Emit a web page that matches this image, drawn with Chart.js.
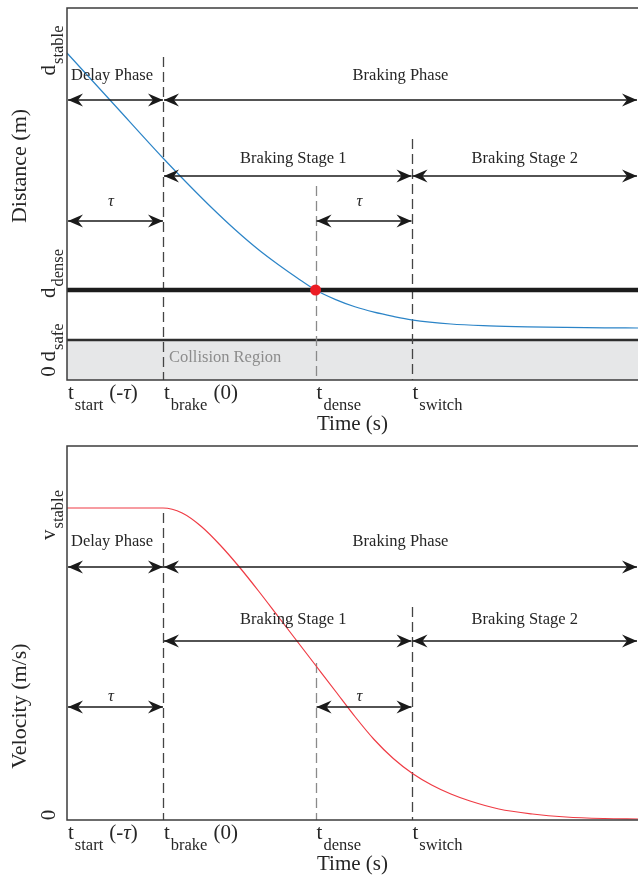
<!DOCTYPE html>
<html>
<head>
<meta charset="utf-8">
<script src="https://cdn.jsdelivr.net/npm/chart.js@4.4.0/dist/chart.umd.min.js"></script>
<style>
html, body { margin: 0; padding: 0; background: #fff; overflow: hidden; }
.box { position: relative; width: 638px; }
.box canvas { display: block; }
#topBox { height: 440px; }
#bottomBox { height: 435px; }
</style>
</head>
<body>
<div class="box" id="topBox"><canvas id="distChart"></canvas></div>
<div class="box" id="bottomBox"><canvas id="velChart"></canvas></div>
<script>
// key instants, in units of tau
const tStart = -1, tBrake = 0, tDense = 1.59, tSwitch = 2.59, tEnd = 4.95;

// distance (arbitrary units)
const distTime = [-1, -0.5, 0, 0.25, 0.5, 0.75, 1.0, 1.2, 1.4, 1.59, 1.8, 2.0, 2.2, 2.4, 2.59, 3.0, 3.4, 3.8, 4.2, 4.6, 4.95];
const distValues = [327, 274.5, 222, 197, 173, 150.5, 130, 115.5, 102, 90, 80.4, 73.2, 67.8, 63.6, 60.2, 56, 54.2, 53.2, 52.6, 52.2, 52];
const dStable = 327, dDense = 90, dSafe = 40, distMax = 372;

// velocity (arbitrary units)
const velTime = [-1, 0, 0.2, 0.4, 0.6, 0.8, 1.0, 1.2, 1.4, 1.6, 1.8, 2.0, 2.2, 2.4, 2.6, 2.8, 3.0, 3.2, 3.5, 3.85, 4.2, 4.6, 4.95];
const velValues = [312, 312, 307, 293.5, 274.5, 252.5, 228.5, 203.5, 178.5, 153.5, 128.5, 103.5, 80.5, 61.5, 46.5, 35, 26, 19, 11, 6, 3, 1.5, 1];
const vStable = 312, velMax = 374;

const serif = '"Liberation Serif", "Times New Roman", serif';
const ink = '#262626';

function pts(xs, ys) { return xs.map((x, i) => ({ x: x, y: ys[i] })); }

function arrowHead(ctx, x, y, dir) {
    ctx.beginPath();
    ctx.moveTo(x, y);
    ctx.lineTo(x - dir * 15, y - 6.5);
    ctx.lineTo(x - dir * 10, y);
    ctx.lineTo(x - dir * 15, y + 6.5);
    ctx.closePath();
    ctx.fill();
}

function drawDashes(chart, dashes) {
    const ctx = chart.ctx, xs = chart.scales.x, bottom = chart.chartArea.bottom;
    ctx.save();
    ctx.setLineDash([10, 5]);
    ctx.lineWidth = 1.3;
    dashes.forEach(d => {
        const x = Math.round(xs.getPixelForValue(d.t)) + 0.5;
        ctx.strokeStyle = d.color;
        ctx.beginPath();
        ctx.moveTo(x, d.top);
        ctx.lineTo(x, bottom);
        ctx.stroke();
    });
    ctx.restore();
}

function drawOverlay(chart, cfg) {
    const ctx = chart.ctx, xs = chart.scales.x, ys = chart.scales.y, area = chart.chartArea;
    ctx.save();

    // frame
    ctx.strokeStyle = '#3d3d3d';
    ctx.lineWidth = 1.5;
    ctx.beginPath();
    ctx.moveTo(area.right + 2, area.top);
    ctx.lineTo(area.left, area.top);
    ctx.lineTo(area.left, area.bottom);
    ctx.lineTo(area.right + 2, area.bottom);
    ctx.stroke();

    // arrows
    ctx.strokeStyle = '#1a1a1a';
    ctx.fillStyle = '#1a1a1a';
    ctx.lineWidth = 1.5;
    cfg.arrows.forEach(a => {
        const x0 = xs.getPixelForValue(a.from) + 1, x1 = Math.min(xs.getPixelForValue(a.to), area.right - 1);
        ctx.beginPath();
        ctx.moveTo(x0, a.y);
        ctx.lineTo(x1, a.y);
        ctx.stroke();
        arrowHead(ctx, x0, a.y, -1);
        arrowHead(ctx, x1, a.y, 1);
    });

    // phase texts
    ctx.fillStyle = ink;
    ctx.textAlign = 'center';
    ctx.textBaseline = 'alphabetic';
    cfg.texts.forEach(t => {
        const x0 = xs.getPixelForValue(t.from), x1 = Math.min(xs.getPixelForValue(t.to), area.right);
        ctx.font = (t.italic ? 'italic ' : '') + '16.5px ' + serif;
        ctx.fillText(t.text, (x0 + x1) / 2 + t.dx, t.y);
    });

    // y tick labels (rotated, with subscripts)
    cfg.yLabels.forEach(l => {
        const py = ys.getPixelForValue(l.v) + l.shift;
        ctx.save();
        ctx.translate(55, py);
        ctx.rotate(-Math.PI / 2);
        ctx.textAlign = 'left';
        ctx.font = '21px ' + serif;
        const w1 = ctx.measureText(l.main).width;
        ctx.font = '16.5px ' + serif;
        const w2 = l.sub ? ctx.measureText(l.sub).width + 1 : 0;
        const x = -(w1 + w2) / 2;
        ctx.font = '21px ' + serif;
        ctx.fillText(l.main, x, 0);
        ctx.font = '16.5px ' + serif;
        if (l.sub) ctx.fillText(l.sub, x + w1 + 1, 8);
        ctx.restore();
    });

    // x tick labels
    const base = area.bottom + 19;
    ctx.textAlign = 'left';
    xTickLabels.forEach(l => {
        let x = xs.getPixelForValue(l.t) + 1;
        ctx.font = '21px ' + serif;
        ctx.fillText(l.main, x, base);
        x += ctx.measureText(l.main).width + 1;
        ctx.font = '16.5px ' + serif;
        ctx.fillText(l.sub, x, base + 11);
        x += ctx.measureText(l.sub).width + 6;
        l.tail.forEach(seg => {
            ctx.font = (seg.italic ? 'italic ' : '') + '21px ' + serif;
            ctx.fillText(seg.s, x, base);
            x += ctx.measureText(seg.s).width;
        });
    });

    // axis titles
    ctx.font = '21px ' + serif;
    ctx.textAlign = 'center';
    ctx.fillText('Time (s)', (area.left + area.right) / 2, area.bottom + 50);
    ctx.save();
    ctx.translate(26, cfg.yTitleY);
    ctx.rotate(-Math.PI / 2);
    ctx.font = '22px ' + serif;
    ctx.fillText(cfg.yTitle, 0, 0);
    ctx.restore();

    if (cfg.extra) cfg.extra(chart);
    ctx.restore();
}

const xTickLabels = [
    { t: tStart, main: 't', sub: 'start', tail: [{ s: '(-' }, { s: 'τ', italic: true }, { s: ')' }] },
    { t: tBrake, main: 't', sub: 'brake', tail: [{ s: '(0)' }] },
    { t: tDense, main: 't', sub: 'dense', tail: [] },
    { t: tSwitch, main: 't', sub: 'switch', tail: [] }
];

const distOverlay = {
    arrows: [
        { from: tStart, to: tBrake, y: 100 }, { from: tBrake, to: tEnd, y: 100 },
        { from: tBrake, to: tSwitch, y: 176 }, { from: tSwitch, to: tEnd, y: 176 },
        { from: tStart, to: tBrake, y: 221 }, { from: tDense, to: tSwitch, y: 221 }
    ],
    texts: [
        { text: 'Delay Phase', from: tStart, to: tBrake, y: 80, dx: -3 },
        { text: 'Braking Phase', from: tBrake, to: tEnd, y: 80, dx: 0 },
        { text: 'Braking Stage 1', from: tBrake, to: tSwitch, y: 163, dx: 6 },
        { text: 'Braking Stage 2', from: tSwitch, to: tEnd, y: 163, dx: 0 },
        { text: 'τ', from: tStart, to: tBrake, y: 206, dx: -4, italic: true },
        { text: 'τ', from: tDense, to: tSwitch, y: 206, dx: -4, italic: true }
    ],
    dashes: [
        { t: tBrake, top: 57, color: '#444' },
        { t: tDense, top: 186, color: '#8a8a8a' },
        { t: tSwitch, top: 139, color: '#444' }
    ],
    yLabels: [
        { v: dStable, main: 'd', sub: 'stable', shift: -2.5 },
        { v: dDense, main: 'd', sub: 'dense', shift: -16.5 },
        { v: dSafe, main: 'd', sub: 'safe', shift: 2.5 },
        { v: 0, main: '0', sub: '', shift: -8.5 }
    ],
    yTitle: 'Distance (m)',
    yTitleY: 166,
    extra(chart) {
        const ctx = chart.ctx, xs = chart.scales.x, ys = chart.scales.y;
        ctx.fillStyle = '#8c8c8c';
        ctx.textAlign = 'left';
        ctx.font = '16.5px ' + serif;
        const mid = (ys.getPixelForValue(0) + ys.getPixelForValue(dSafe)) / 2;
        ctx.fillText('Collision Region', xs.getPixelForValue(tBrake) + 6, mid + 2);
    }
};

const velOverlay = {
    arrows: [
        { from: tStart, to: tBrake, y: 127 }, { from: tBrake, to: tEnd, y: 127 },
        { from: tBrake, to: tSwitch, y: 201 }, { from: tSwitch, to: tEnd, y: 201 },
        { from: tStart, to: tBrake, y: 267 }, { from: tDense, to: tSwitch, y: 267 }
    ],
    texts: [
        { text: 'Delay Phase', from: tStart, to: tBrake, y: 106, dx: -3 },
        { text: 'Braking Phase', from: tBrake, to: tEnd, y: 106, dx: 0 },
        { text: 'Braking Stage 1', from: tBrake, to: tSwitch, y: 184, dx: 6 },
        { text: 'Braking Stage 2', from: tSwitch, to: tEnd, y: 184, dx: 0 },
        { text: 'τ', from: tStart, to: tBrake, y: 261, dx: -4, italic: true },
        { text: 'τ', from: tDense, to: tSwitch, y: 261, dx: -4, italic: true }
    ],
    dashes: [
        { t: tBrake, top: 73, color: '#444' },
        { t: tDense, top: 223, color: '#8a8a8a' },
        { t: tSwitch, top: 167, color: '#444' }
    ],
    yLabels: [
        { v: vStable, main: 'v', sub: 'stable', shift: 7 },
        { v: 0, main: '0', sub: '', shift: -5 }
    ],
    yTitle: 'Velocity (m/s)',
    yTitleY: 266
};

function baseOptions(yMax, padTop, xHeight) {
    return {
        animation: false,
        responsive: true,
        maintainAspectRatio: false,
        layout: { autoPadding: false, padding: { top: padTop, right: 0, bottom: 0, left: 0 } },
        plugins: { legend: { display: false }, tooltip: { enabled: false } },
        elements: { point: { radius: 0 } },
        scales: {
            x: {
                type: 'linear', min: tStart, max: tEnd,
                grid: { display: false, drawTicks: false }, border: { display: false },
                ticks: { display: false },
                afterFit(s) { s.height = xHeight; }
            },
            y: {
                min: 0, max: yMax,
                grid: { display: false, drawTicks: false }, border: { display: false },
                ticks: { display: false },
                afterFit(s) { s.width = 67; }
            }
        }
    };
}

const distChart = new Chart(document.getElementById('distChart'), {
    type: 'line',
    data: {
        datasets: [{
            data: pts([tStart, tEnd + 0.1], [dSafe, dSafe]),
            borderColor: '#2e2e2e', borderWidth: 2.5,
            backgroundColor: '#e6e7e8', fill: 'start', order: 3
        },
        {
            data: pts([tStart, tEnd + 0.1], [dDense, dDense]),
            borderColor: '#1c1c1c', borderWidth: 4.5, fill: false, order: 2
        },
        {
            data: pts(distTime, distValues),
            borderColor: '#2b84c7', borderWidth: 1.2, fill: false,
            cubicInterpolationMode: 'monotone', order: 1
        },
        {
            data: pts([tDense], [dDense]),
            showLine: false, pointRadius: 5.5, backgroundColor: '#ec1c24', borderWidth: 0, order: 0
        }]
    },
    options: baseOptions(distMax, 8, 60),
    plugins: [{
        id: 'distOverlay',
        afterDatasetDraw(chart, args) {
            if (args.index === 0) drawDashes(chart, distOverlay.dashes);
        },
        afterDraw(chart) { drawOverlay(chart, distOverlay); }
    }]
});

const velChart = new Chart(document.getElementById('velChart'), {
    type: 'line',
    data: {
        datasets: [{
            data: pts(velTime, velValues),
            borderColor: '#ef3b44', borderWidth: 1.2, fill: false,
            cubicInterpolationMode: 'monotone'
        }]
    },
    options: baseOptions(velMax, 6, 55),
    plugins: [{
        id: 'velOverlay',
        beforeDatasetsDraw(chart) { drawDashes(chart, velOverlay.dashes); },
        afterDraw(chart) { drawOverlay(chart, velOverlay); }
    }]
});
</script>
</body>
</html>
